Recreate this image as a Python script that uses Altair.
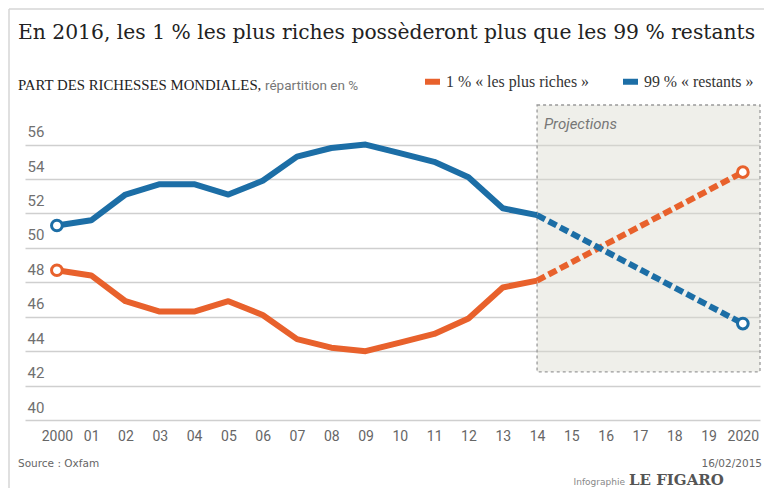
import altair as alt
import pandas as pd

# ---------------- data ----------------
years = [2000, 2001, 2002, 2003, 2004, 2005, 2006, 2007, 2008, 2009, 2010, 2011, 2012, 2013, 2014]
rich = [48.7, 48.4, 46.9, 46.3, 46.3, 46.9, 46.1, 44.7, 44.2, 44.0, 44.5, 45.0, 45.9, 47.7, 48.1]
rest = [51.3, 51.6, 53.1, 53.7, 53.7, 53.1, 53.9, 55.3, 55.8, 56.0, 55.5, 55.0, 54.1, 52.3, 51.9]

proj_years = [2014, 2020]
proj_rich = [48.1, 54.4]
proj_rest = [51.9, 45.6]

series_names = ["1 % « les plus riches »", "99 % « restants »"]
series_colors = ["#e8612c", "#1c6ea6"]

tick_years = [2000, 2001, 2002, 2003, 2004, 2005, 2006, 2007, 2008, 2009, 2010,
              2011, 2012, 2013, 2014, 2015, 2016, 2017, 2018, 2019, 2020]
y_ticks = [40, 42, 44, 46, 48, 50, 52, 54, 56]

proj_box = {"x": [2014], "x2": [2020.5], "y": [42.8], "y2": [58.3]}
proj_label = {"x": [2014.2], "y": [56.9], "t": ["Projections"]}

title_text = ["En 2016, les 1 % les plus riches possèderont plus que les 99 % restants"]
subtitle_main = ["PART DES RICHESSES MONDIALES,"]
subtitle_unit = ["répartition en %"]
source_text = ["Source : Oxfam"]
date_text = ["16/02/2015"]
credit_small = ["Infographie"]
credit_big = ["LE FIGARO"]

# ---------------- tables ----------------
hist = pd.DataFrame({
    "year": years * 2,
    "value": rich + rest,
    "series": [series_names[0]] * len(years) + [series_names[1]] * len(years),
})
proj = pd.DataFrame({
    "year": proj_years * 2,
    "value": proj_rich + proj_rest,
    "series": [series_names[0]] * 2 + [series_names[1]] * 2,
})
ends = pd.DataFrame({
    "year": [years[0], proj_years[-1], years[0], proj_years[-1]],
    "value": [rich[0], proj_rich[-1], rest[0], proj_rest[-1]],
    "series": [series_names[0], series_names[0], series_names[1], series_names[1]],
})

SLAB = "DejaVu Serif"
TIMES = "Liberation Serif"
SANS = "Roboto"
VERD = "DejaVu Sans"

xscale = alt.Scale(domain=[1999.07, 2020.5], nice=False, zero=False)
yscale = alt.Scale(domain=[40, 58.3], nice=False, zero=False)

label_expr = ("datum.value == 2000 || datum.value == 2020 ? '' + datum.value : "
              "((datum.value % 100) < 10 ? '0' : '') + (datum.value % 100)")

x_axis = alt.Axis(values=tick_years, labelExpr=label_expr, grid=False, domain=False,
                  ticks=False, labelPadding=9, labelFontSize=14, labelFont=SANS,
                  labelColor="#666666", title=None, labelOverlap=False, labelFlush=False)
y_axis = alt.Axis(values=y_ticks, grid=True, gridColor="#cfcfcf", gridWidth=1.5,
                  domain=False, ticks=False, tickSize=0, labelAlign="left",
                  labelBaseline="bottom", labelPadding=-2, labelOffset=-5,
                  labelFont=SANS, labelFontSize=15, labelColor="#707070", title=None,
                  labelOverlap=False)

color_scale = alt.Scale(domain=series_names, range=series_colors)


def X(field):
    return alt.X(field, scale=xscale, axis=x_axis)


def Y(field):
    return alt.Y(field, scale=yscale, axis=y_axis)


box = alt.Chart(pd.DataFrame(proj_box)).mark_rect(
    fill="#d9d9cd", fillOpacity=0.42, stroke="#9a9a9a", strokeDash=[3, 3], strokeWidth=1.3
).encode(x=X("x:Q"), x2="x2:Q", y=Y("y:Q"), y2="y2:Q")

proj_txt = alt.Chart(pd.DataFrame(proj_label)).mark_text(
    align="left", baseline="alphabetic", font=SANS, fontStyle="italic",
    fontSize=15, color="#777777"
).encode(x=X("x:Q"), y=Y("y:Q"), text="t:N")

solid = alt.Chart(hist).mark_line(strokeWidth=6, strokeJoin="round", strokeCap="butt").encode(
    x=X("year:Q"),
    y=Y("value:Q"),
    color=alt.Color("series:N", scale=color_scale, legend=alt.Legend(
        title=None, orient="none", legendX=397, legendY=-34, direction="horizontal",
        symbolType="stroke", symbolSize=225, symbolStrokeWidth=6, padding=0,
        labelFont=TIMES, labelFontSize=15.9, labelColor="#333333",
        columnPadding=22, labelOffset=3, labelLimit=300)),
    detail="series:N",
)

dashed = alt.Chart(proj).mark_line(strokeWidth=6, strokeDash=[9, 4], strokeCap="butt").encode(
    x=X("year:Q"),
    y=Y("value:Q"),
    stroke=alt.Stroke("series:N", scale=color_scale, legend=None),
    detail="series:N",
)

points = alt.Chart(ends).mark_point(filled=False, size=115, strokeWidth=3, fill="white",
                                    fillOpacity=1, opacity=1).encode(
    x=X("year:Q"),
    y=Y("value:Q"),
    stroke=alt.Stroke("series:N", scale=color_scale, legend=None),
)


def label(values, x, y, **kw):
    return alt.Chart(pd.DataFrame({"t": values})).mark_text(
        align=kw.pop("align", "left"), baseline="alphabetic", **kw
    ).encode(x=alt.value(x), y=alt.value(y), text="t:N")


title = label(title_text, -7, -66, font=SLAB, fontSize=20.3, color="#222222")
sub1 = label(subtitle_main, -7, -15, font=TIMES, fontSize=14.8, color="#222222")
sub2 = label(subtitle_unit, 240, -15, font=SANS, fontSize=13.5, color="#777777")
src = label(source_text, -7, 362, font=VERD, fontSize=10.5, color="#666666")
dte = label(date_text, 737, 362, font=VERD, fontSize=10.5, color="#666666", align="right")
cred1 = label(credit_small, 600, 380, font=VERD, fontSize=9, color="#888888", align="right")
cred2 = label(credit_big, 604, 380, font=SLAB, fontSize=15, fontWeight="bold", color="#555555")

frame_left = alt.Chart(pd.DataFrame({"a": [0]})).mark_rule(color="#d6d6d6", strokeWidth=1.5).encode(
    x=alt.value(-16), y=alt.value(-96), y2=alt.value(400))
frame_top = alt.Chart(pd.DataFrame({"a": [0]})).mark_rule(color="#d6d6d6", strokeWidth=1.5).encode(
    x=alt.value(-16), x2=alt.value(760), y=alt.value(-96))

chart = alt.layer(
    box, proj_txt, solid, dashed, points,
    title, sub1, sub2, src, dte, cred1, cred2, frame_left, frame_top,
).properties(
    width=735, height=315,
    autosize=alt.AutoSizeParams(type="none"),
    padding={"left": 25, "top": 105, "right": 4, "bottom": 68},
    background="white",
).configure_view(stroke=None).configure_axis(labelOverlap=False)

chart.save("out.html", embed_options={"renderer": "svg", "actions": False})
